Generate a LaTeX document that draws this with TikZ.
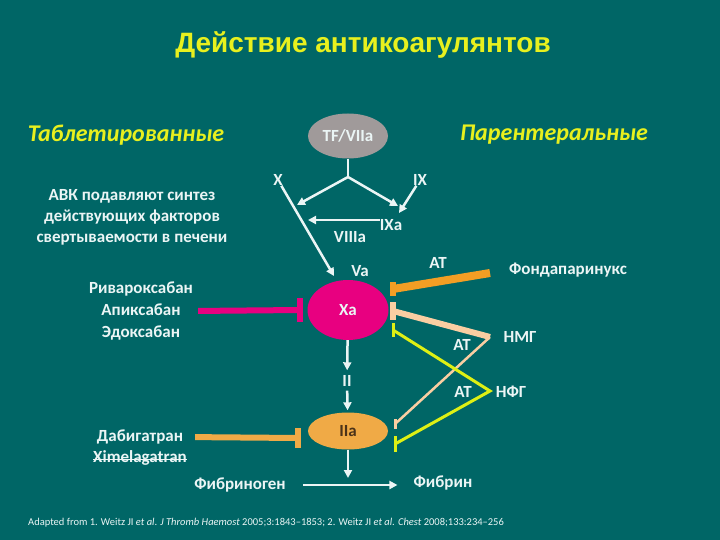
\documentclass[tikz,border=0pt]{standalone}
\usepackage{fontspec}
\setmainfont{Carlito}
\newfontfamily\titlefont{Liberation Sans}
\usetikzlibrary{arrows.meta,shapes.geometric}
\definecolor{bgteal}{RGB}{0,102,102}
\definecolor{txtwhite}{RGB}{235,245,245}
\definecolor{hdyellow}{RGB}{232,240,30}
\definecolor{tfgray}{RGB}{160,154,154}
\definecolor{xamag}{RGB}{232,0,128}
\definecolor{iiaorange}{RGB}{240,170,70}
\definecolor{fporange}{RGB}{243,158,36}
\definecolor{lmpeach}{RGB}{250,206,162}
\definecolor{ufyellow}{RGB}{222,240,20}
\newcommand\strk[1]{\setbox0\hbox{#1}\rlap{\rule[0.28ex]{\wd0}{0.9pt}}\box0}
\begin{document}
\begin{tikzpicture}[x=1pt, y=-1pt, >={Triangle[length=8pt,width=8pt]},
    lbl/.style={text=txtwhite, inner sep=0pt, font=\fontsize{17}{21}\selectfont\bfseries},
    hdr/.style={text=hdyellow, inner sep=0pt, font=\fontsize{24}{28}\selectfont\bfseries\itshape},
    factor/.style={ellipse, inner sep=0pt, font=\fontsize{17}{20}\selectfont\bfseries},
    arr/.style={->, txtwhite, line width=2.5pt},
    inhbar/.style={inner sep=0pt, minimum width=6pt, minimum height=#1},
    thinbar/.style={inner sep=0pt, minimum width=3pt, minimum height=#1}]
    % фон
    \fill[bgteal] (0,0) rectangle (720,540);
    \useasboundingbox (0,0) rectangle (720,540);

    % заголовки
    \node[text=hdyellow, font=\titlefont\fontsize{28}{32}\selectfont\bfseries] (title) at (363,45) {Действие антикоагулянтов};
    \node[hdr] (tabl) at (126,135) {Таблетированные};
    \node[hdr] (parent) at (554,135) {Парентеральные};
    \node[lbl, align=center] (avk) at (132,217) {АВК подавляют синтез\\действующих факторов\\свертываемости в печени};

    % каскад
    \node[factor, fill=tfgray, text=txtwhite, minimum width=80pt, minimum height=45pt] (tf) at (348,136) {TF/VIIa};
    \coordinate (jn) at (348,177);
    \node[lbl] (x) at (278,180) {X};
    \node[lbl] (ix) at (420,180) {IX};
    \node[lbl] (ixa) at (391,225) {IXa};
    \node[lbl] (viiia) at (350,237) {VIIIa};
    \node[lbl] (va) at (360,271) {Va};
    \coordinate (xt) at (297,205);
    \coordinate (ixt) at (398,206);
    \coordinate (ixt2) at (399,213);
    \coordinate (viiit) at (308,220);
    \coordinate (vat) at (334,276);
    \draw[txtwhite, line width=2.5pt] (tf) -- (jn);
    \draw[arr] (jn) -- (xt);
    \draw[arr] (jn) -- (ixt);
    \draw[arr] (ix) -- (ixt2);
    \draw[arr] ([yshift=5pt]ixa.west) -- (viiit);
    \draw[arr] (x) -- (vat);

    \node[factor, fill=xamag, text=txtwhite, minimum width=81pt, minimum height=60pt] (xa) at (348,310) {Xa};
    \node[lbl] (ii) at (347,381) {II};
    \node[factor, fill=iiaorange, text=black!60!brown, minimum width=80pt, minimum height=37pt] (iia) at (348,431) {IIa};
    \coordinate (fbt) at (348,478);
    \draw[arr, shorten >=5pt] (xa) -- (ii);
    \draw[arr, shorten <=4pt, shorten >=2pt] (ii) -- (iia);
    \draw[arr] (iia) -- (fbt);
    \node[lbl] (fgen) at (240,485) {Фибриноген};
    \node[lbl] (fbr) at (443,483) {Фибрин};
    \draw[arr, shorten <=17pt, shorten >=16pt] (fgen.east) -- (fgen.east -| fbr.west);

    % таблетированные ингибиторы
    \node[lbl, align=center, font=\fontsize{17}{22}\selectfont\bfseries] (xab) at (141,311) {Ривароксабан\\Апиксабан\\Эдоксабан};
    \node[inhbar=24pt, fill=xamag] (xbar) at (300,310) {};
    \draw[xamag, line width=6pt, shorten <=5pt] (xab.east) -- (xbar.center);
    \node[lbl] (dab) at (140,437) {Дабигатран};
    \node[lbl] (xim) at (140,458) {\strk{Ximelagatran}};
    \node[inhbar=20pt, fill=iiaorange] (iibar) at (298,438) {};
    \draw[iiaorange, line width=6pt, shorten <=12pt] (dab.east) -- (iibar.center);

    % парентеральные ингибиторы
    \node[inhbar=14pt, fill=fporange] (fbar) at (393,289) {};
    \coordinate (fp) at (490,273);
    \draw[fporange, line width=8pt] (fp) -- (fbar.center);
    \node[lbl] (at1) at (438,263) {AT};
    \node[lbl] (fpx) at (568,270) {Фондапаринукс};

    \node[inhbar=18pt, fill=lmpeach] (lbar) at (393,311) {};
    \node[thinbar=10pt, fill=lmpeach] (lbar2) at (395,424) {};
    \coordinate (lm) at (490,337);
    \draw[lmpeach, line width=6pt] (lbar.center) -- (lm);
    \draw[lmpeach, line width=2.5pt, line join=round] (lm) -- (lbar2.center);
    \node[lbl] (at2) at (462,345) {AT};
    \node[lbl] (lmwh) at (520,337) {НМГ};

    \node[thinbar=14pt, fill=ufyellow] (ubar) at (393,330) {};
    \node[thinbar=16pt, fill=ufyellow] (ubar2) at (395,444) {};
    \coordinate (uf) at (490,391);
    \draw[ufyellow, line width=3pt, line join=miter] (ubar.center) -- (uf) -- (ubar2.center);
    \node[lbl] (at3) at (463,392) {AT};
    \node[lbl] (ufh) at (511,392) {НФГ};

    % источник
    \node[text=txtwhite, inner sep=0pt, anchor=west, font=\fontsize{10.5}{12}\selectfont] (src) at (28,523) {Adapted from 1. Weitz JI \textit{et al}. \textit{J Thromb Haemost} 2005;3:1843--1853; 2. Weitz JI \textit{et al}. \textit{Chest} 2008;133:234--256};
\end{tikzpicture}
\end{document}
